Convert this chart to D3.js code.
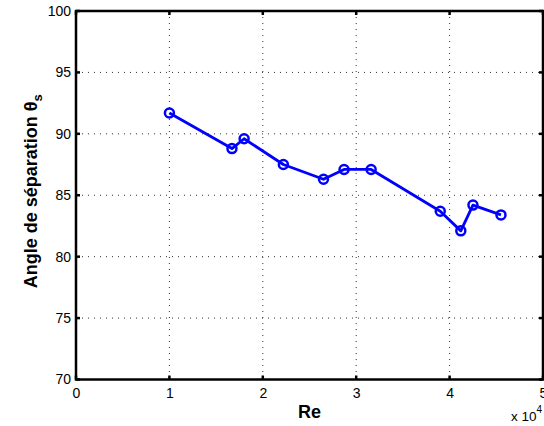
<!DOCTYPE html>
<html>
<head>
<meta charset="utf-8">
<script src="https://cdn.jsdelivr.net/npm/d3@7"></script>
<style>
html,body{margin:0;padding:0;background:#fff;}
svg{display:block;}
</style>
</head>
<body>
<svg id="chart" width="544" height="426"></svg>
<script>
// Data (Re in units of 10^4)
const reValues = [1.00, 1.67, 1.80, 2.22, 2.65, 2.87, 3.16, 3.90, 4.12, 4.25, 4.55];
const angleValues = [91.7, 88.8, 89.6, 87.5, 86.3, 87.1, 87.1, 83.7, 82.1, 84.2, 83.4];
const xTicks = [0, 1, 2, 3, 4, 5];
const yTicks = [70, 75, 80, 85, 90, 95, 100];

(function () {
const svg = d3.select("#chart");
const mLeft = 76, mRight = 543, mTop = 11, mBottom = 379.5;
const x = d3.scaleLinear().domain([0, 5]).range([mLeft, mRight]);
const y = d3.scaleLinear().domain([70, 100]).range([mBottom, mTop]);
const font = "'Liberation Sans', Arial, sans-serif";

// grid
const grid = svg.append("g");
grid.selectAll("line.vx").data(xTicks.filter(d => d > 0 && d < 5)).enter().append("line")
  .attr("x1", d => x(d)).attr("x2", d => x(d)).attr("y1", mTop).attr("y2", mBottom)
  .attr("stroke", "#333").attr("stroke-width", 1).attr("stroke-dasharray", "1,5");
grid.selectAll("line.hy").data(yTicks.filter(d => d > 70 && d < 100)).enter().append("line")
  .attr("y1", d => y(d)).attr("y2", d => y(d)).attr("x1", mLeft).attr("x2", mRight)
  .attr("stroke", "#333").attr("stroke-width", 1).attr("stroke-dasharray", "1,5");

// axes
const xAxis = d3.axisBottom(x).tickValues(xTicks).tickSize(0).tickPadding(9).tickFormat(d3.format("d"));
const yAxis = d3.axisLeft(y).tickValues(yTicks).tickSize(0).tickPadding(5).tickFormat(d3.format("d"));
const gx = svg.append("g").attr("transform", `translate(0,${mBottom})`).call(xAxis);
const gy = svg.append("g").attr("transform", `translate(${mLeft},0)`).call(yAxis);
[gx, gy].forEach(g => {
  g.select(".domain").remove();
  g.selectAll("text").attr("font-family", font).attr("font-size", 14).attr("fill", "#000");
});

// inner ticks on all sides
const tl = 4;
const ticks = svg.append("g").attr("stroke", "#000").attr("stroke-width", 2.5);
xTicks.forEach(d => {
  ticks.append("line").attr("x1", x(d)).attr("x2", x(d)).attr("y1", mBottom).attr("y2", mBottom - tl);
  ticks.append("line").attr("x1", x(d)).attr("x2", x(d)).attr("y1", mTop).attr("y2", mTop + tl);
});
yTicks.forEach(d => {
  ticks.append("line").attr("y1", y(d)).attr("y2", y(d)).attr("x1", mLeft).attr("x2", mLeft + tl);
  ticks.append("line").attr("y1", y(d)).attr("y2", y(d)).attr("x1", mRight).attr("x2", mRight - tl);
});

// box
svg.append("rect").attr("x", mLeft).attr("y", mTop).attr("width", mRight - mLeft).attr("height", mBottom - mTop)
  .attr("fill", "none").attr("stroke", "#000").attr("stroke-width", 2.5);

// data line
const pts = reValues.map((r, i) => [r, angleValues[i]]);
svg.append("path").datum(pts)
  .attr("d", d3.line().x(d => x(d[0])).y(d => y(d[1])))
  .attr("fill", "none").attr("stroke", "#0000ff").attr("stroke-width", 2.8).attr("stroke-linejoin", "round");
svg.selectAll("circle.m").data(pts).enter().append("circle")
  .attr("cx", d => x(d[0])).attr("cy", d => y(d[1])).attr("r", 4.5)
  .attr("fill", "none").attr("stroke", "#0000ff").attr("stroke-width", 2.5);

// labels
svg.append("text").attr("x", (mLeft + mRight) / 2).attr("y", 418).attr("text-anchor", "middle")
  .attr("font-family", font).attr("font-weight", "bold").attr("font-size", 18).text("Re");

const yl = svg.append("text").attr("transform", `translate(37,${(mTop + mBottom) / 2 - 4}) rotate(-90)`)
  .attr("text-anchor", "middle").attr("font-family", font).attr("font-weight", "bold").attr("font-size", 18);
yl.append("tspan").text("Angle de séparation θ");
yl.append("tspan").attr("dy", 5).attr("font-size", 13).text("s");

const ex = svg.append("text").attr("x", 511).attr("y", 421).attr("font-family", font).attr("font-size", 13.5);
ex.append("tspan").text("x 10");
ex.append("tspan").attr("dy", -8).attr("font-size", 10).text("4");
})();
</script>
</body>
</html>
